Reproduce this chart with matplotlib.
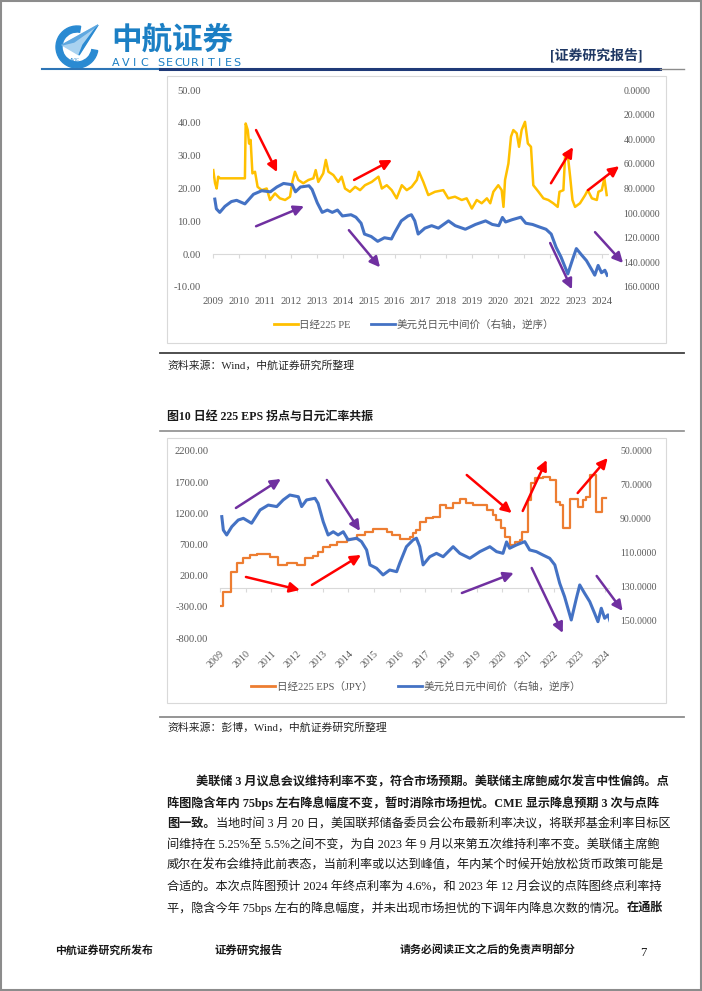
import matplotlib
matplotlib.use("Agg")
import matplotlib.pyplot as plt
from matplotlib.patches import Rectangle, Polygon, Wedge
from matplotlib.lines import Line2D

# ---------------- data ----------------
years = list(range(2009, 2025))

# Nikkei 225 PE (chart 1, left axis)
pe_x = [2009.01, 2009.08, 2009.14, 2009.20, 2009.27, 2010.23, 2010.26, 2010.34, 2010.39, 2010.45,
        2010.52, 2010.62, 2010.72, 2010.88, 2011.07, 2011.20, 2011.39, 2011.58, 2011.78, 2011.97,
        2012.06, 2012.16, 2012.29, 2012.48, 2012.68, 2012.87, 2012.96, 2013.06, 2013.25, 2013.35,
        2013.45, 2013.64, 2013.83, 2013.96, 2014.09, 2014.28, 2014.48, 2014.67, 2014.86, 2015.12,
        2015.38, 2015.51, 2015.70, 2015.89, 2016.08, 2016.28, 2016.47, 2016.66, 2016.86, 2016.94,
        2017.11, 2017.30, 2017.56, 2017.88, 2018.07, 2018.33, 2018.59, 2018.78, 2018.98, 2019.17,
        2019.36, 2019.56, 2019.69, 2019.81, 2020.00, 2020.13, 2020.20, 2020.26, 2020.39, 2020.49,
        2020.58, 2020.71, 2020.80, 2020.90, 2021.03, 2021.14, 2021.26, 2021.35, 2021.55, 2021.74,
        2021.93, 2022.12, 2022.29, 2022.36, 2022.51, 2022.58, 2022.70, 2022.77, 2022.86, 2022.96,
        2023.15, 2023.35, 2023.45, 2023.61, 2023.80, 2023.86, 2023.99, 2024.09, 2024.18]
pe_y = [25.6, 21.6, 20.0, 23.6, 23.1, 23.1, 39.8, 37.8, 33.7, 34.8,
        24.6, 25.1, 20.5, 19.5, 20.0, 16.5, 18.5, 17.0, 16.5, 17.5,
        22.0, 25.1, 22.6, 21.6, 22.6, 23.1, 25.6, 22.0, 24.6, 28.7,
        25.1, 24.1, 22.0, 23.6, 20.0, 19.0, 20.5, 19.5, 21.0, 22.0,
        23.6, 20.0, 21.0, 19.5, 17.0, 21.0, 19.5, 20.5, 22.6, 25.1,
        22.0, 18.0, 19.0, 19.5, 17.0, 17.5, 16.5, 17.0, 13.9, 16.5,
        15.5, 17.0, 15.5, 19.0, 21.0, 19.5, 14.4, 22.6, 27.6, 35.8,
        37.8, 36.8, 32.7, 37.8, 40.3, 33.7, 32.7, 21.0, 19.0, 17.0,
        16.5, 15.5, 14.4, 19.0, 19.5, 30.7, 28.7, 23.6, 16.5, 14.4,
        15.5, 18.0, 19.5, 17.0, 16.5, 19.0, 19.5, 23.1, 18.0]

# USD/JPY central parity (right axis, reversed) - same series in both charts
fx_x = [2009.07, 2009.13, 2009.26, 2009.46, 2009.71, 2009.91, 2010.23, 2010.56, 2010.88, 2011.21,
        2011.46, 2011.72, 2012.05, 2012.18, 2012.37, 2012.70, 2012.82, 2013.02, 2013.21, 2013.41,
        2013.60, 2013.80, 2013.99, 2014.32, 2014.51, 2014.71, 2014.84, 2015.10, 2015.35, 2015.61,
        2015.88, 2016.00, 2016.26, 2016.52, 2016.65, 2016.78, 2016.91, 2017.17, 2017.43, 2017.69,
        2018.08, 2018.34, 2018.73, 2019.12, 2019.51, 2019.77, 2020.02, 2020.16, 2020.28, 2020.54,
        2020.87, 2021.06, 2021.32, 2021.58, 2021.84, 2022.04, 2022.23, 2022.42, 2022.68, 2022.88,
        2023.01, 2023.20, 2023.40, 2023.59, 2023.72, 2023.85, 2023.98, 2024.11, 2024.20]
fx_y = [88.6, 96.5, 99.4, 94.5, 90.6, 89.6, 92.5, 84.7, 81.8, 82.7,
        78.8, 75.9, 76.9, 82.7, 78.8, 77.8, 80.8, 91.6, 99.4, 97.5,
        99.4, 97.5, 102.3, 101.3, 103.3, 108.2, 117.0, 119.0, 122.9, 120.0,
        121.0, 116.0, 106.3, 102.3, 101.3, 106.3, 117.0, 112.2, 110.2, 112.2,
        106.3, 110.2, 113.1, 109.2, 106.3, 109.2, 110.2, 103.5, 107.2, 105.3,
        103.3, 108.2, 109.2, 111.2, 113.1, 117.0, 127.8, 135.7, 149.4, 136.6,
        128.8, 133.7, 138.6, 145.5, 150.4, 142.5, 148.4, 146.4, 150.5]

# Nikkei 225 EPS, JPY (chart 2, left axis, step line)
eps_x = [2009.00, 2009.12, 2009.42, 2009.65, 2009.89, 2010.17, 2010.43, 2010.95, 2011.26, 2011.60,
         2011.98, 2012.31, 2012.62, 2012.81, 2013.01, 2013.28, 2013.54, 2013.93, 2014.32, 2014.64,
         2014.95, 2015.49, 2015.68, 2016.00, 2016.39, 2016.50, 2016.65, 2016.78, 2017.04, 2017.29,
         2017.56, 2017.82, 2018.08, 2018.34, 2018.60, 2018.86, 2019.38, 2019.63, 2019.76, 2019.96,
         2020.09, 2020.28, 2020.48, 2020.67, 2020.78, 2021.00, 2021.13, 2021.26, 2021.58, 2021.84,
         2022.10, 2022.23, 2022.36, 2022.62, 2022.94, 2023.13, 2023.27, 2023.40, 2023.66, 2023.89,
         2024.05]
eps_y = [-286, -57, 264, 399, 483, 532, 548, 505, 371, 408,
         371, 479, 516, 585, 655, 692, 745, 788, 853, 906,
         944, 906, 853, 788, 815, 880, 933, 1066, 1120, 1147,
         1334, 1281, 1361, 1425, 1361, 1334, 1253, 1173, 1093, 960,
         825, 692, 745, 772, 906, 1414, 1682, 1762, 1778, 1735,
         1387, 1334, 960, 1425, 1307, 1414, 1467, 1815, 1227, 1441,
         1441]

# hand-drawn arrows (start x, start y, end x, end y) in left-axis units
c1_red = [(2010.66, 37.8, 2011.47, 25.0), (2014.44, 22.6, 2015.90, 28.7),
          (2022.03, 21.6, 2022.88, 32.6), (2023.46, 19.5, 2024.66, 26.8)]
c1_purple = [(2010.66, 8.5, 2012.51, 14.6), (2014.24, 7.3, 2015.44, -4.0),
             (2022.00, 3.4, 2022.84, -10.7), (2023.73, 6.7, 2024.81, -2.7)]
c2_red = [(2010.01, 179, 2012.11, -30), (2012.58, 51, 2014.49, 532),
          (2018.61, 1815, 2020.36, 1205), (2020.79, 1238, 2021.72, 2056),
          (2022.93, 1526, 2024.10, 2088)]
c2_purple = [(2009.62, 1286, 2011.37, 1751), (2013.16, 1735, 2014.45, 917),
             (2018.42, -78, 2020.44, 243), (2021.14, 323, 2022.35, -719),
             (2023.67, 195, 2024.68, -366)]

para = [
    [("美联储 3 月议息会议维持利率不变，符合市场预期。美联储主席鲍威尔发言中性偏鸽。点", True)],
    [("阵图隐含年内 75bps 左右降息幅度不变，暂时消除市场担忧。CME 显示降息预期 3 次与点阵", True)],
    [("图一致。", True), ("当地时间 3 月 20 日，美国联邦储备委员会公布最新利率决议，将联邦基金利率目标区", False)],
    [("间维持在 5.25%至 5.5%之间不变，为自 2023 年 9 月以来第五次维持利率不变。美联储主席鲍", False)],
    [("威尔在发布会维持此前表态，当前利率或以达到峰值，年内某个时候开始放松货币政策可能是", False)],
    [("合适的。本次点阵图预计 2024 年终点利率为 4.6%，和 2023 年 12 月会议的点阵图终点利率持", False)],
    [("平，隐含今年 75bps 左右的降息幅度，并未出现市场担忧的下调年内降息次数的情况。", False), ("在通胀", True)],
]

# ---------------- page ----------------
W, H = 702, 991
SERIF = ['Liberation Serif', 'Noto Sans CJK SC']
SANS = ['Noto Sans CJK SC', 'DejaVu Sans']
GREY = '#595959'
YELLOW, BLUE, ORANGE = '#FFC000', '#4472C4', '#ED7D31'
RED, PURPLE = '#FF0000', '#7030A0'

fig = plt.figure(figsize=(7.02, 9.91), dpi=100)
fig.patch.set_facecolor('white')
renderer = fig.canvas.get_renderer()


def px_box(l, t, r, b):
    return [l / W, 1 - b / H, (r - l) / W, (b - t) / H]


def ftext(x, y, s, **kw):
    kw.setdefault('family', SERIF)
    kw.setdefault('va', 'center')
    return fig.text(x / W, 1 - y / H, s, **kw)


def hline(x0, x1, y, **kw):
    fig.add_artist(Line2D([x0 / W, x1 / W], [1 - y / H, 1 - y / H], **kw))


def box(l, t, r, b, **kw):
    fig.add_artist(Rectangle((l / W, 1 - b / H), (r - l) / W, (b - t) / H,
                             transform=fig.transFigure, fill=False, **kw))


# page frame
box(1, 1, W - 1, H - 1, edgecolor='#8C8C8C', lw=1.5)

# header / logo
logo = fig.add_axes(px_box(52, 20, 104, 72))
logo.set_xlim(0, 52)
logo.set_ylim(0, 52)
logo.axis('off')
logo.add_patch(Wedge((25, 25), 21, 80, 350, width=6, color='#2A8AD2'))
logo.add_patch(Polygon([[10, 27], [46, 47], [27, 17]], color='#A9D2F0'))
logo.add_patch(Polygon([[27, 17], [46, 47], [31, 27]], color='#2A8AD2'))
logo.add_patch(Polygon([[10, 27], [46, 47], [22, 30]], color='#5FA8E0'))
logo.text(23, 12, 'AVIC', fontsize=3.2, color='#2A8AD2', ha='center', va='center')
ftext(111, 40, '中航证券', family=SANS, fontsize=22, weight='bold', color='#1B7FC4')
for i, ch in enumerate('AVIC'):
    ftext(116 + i * 9.5, 63, ch, family='DejaVu Sans', fontsize=8, color='#1B7FC4', ha='center')
for i, ch in enumerate('SECURITIES'):
    ftext(161 + i * 8.4, 63, ch, family='DejaVu Sans', fontsize=8, color='#1B7FC4', ha='center')
ftext(596, 55, '[证券研究报告]', fontsize=10, weight='bold', color='#1F3864', ha='center')
hline(42, 160, 68.5, color='#2E75B6', lw=1.5)
hline(160, 660, 68.5, color='#1F3A78', lw=2.2)
hline(660, 684, 68.5, color='#8C8C8C', lw=1)


def draw_arrows(ax, axr, arrows, color):
    for x0, y0, x1, y1 in arrows:
        axr.annotate('', xy=(x1, y1), xytext=(x0, y0), xycoords=ax.transData,
                     textcoords=ax.transData, annotation_clip=False,
                     arrowprops=dict(arrowstyle='-|>,head_length=0.6,head_width=0.3',
                                     color=color, lw=1.8, shrinkA=0, shrinkB=0))


def dual_axes(rect, xlim, ylim_l, yt_l, fmt_l, ylim_r, yt_r, fmt_r, pad_l, pad_r):
    ax = fig.add_axes(rect)
    axr = ax.twinx()
    for a in (ax, axr):
        for s in a.spines.values():
            s.set_visible(False)
        a.tick_params(length=0, labelcolor=GREY)
    ax.set_xlim(*xlim)
    ax.set_ylim(*ylim_l)
    axr.set_ylim(*ylim_r)
    ax.set_yticks(yt_l, [fmt_l.format(v) for v in yt_l], family=SERIF)
    axr.set_yticks(yt_r, [fmt_r.format(v) for v in yt_r], family=SERIF)
    ax.tick_params(axis='y', pad=pad_l, labelsize=7.6)
    axr.tick_params(axis='y', pad=pad_r, labelsize=7.0)
    # category axis crossing at zero, with small outward tick marks
    zero = (0 - ylim_l[0]) / (ylim_l[1] - ylim_l[0])
    sec = ax.secondary_xaxis(zero)
    sec.set_xticks(years, [])
    sec.tick_params(direction='out', length=3, color='#D9D9D9', width=0.8)
    sec.spines['bottom'].set_color('#D9D9D9')
    return ax, axr


# ---------------- chart 1 ----------------
box(167, 76, 666, 343, edgecolor='#D9D9D9', lw=0.8)
ax1, ax1r = dual_axes(px_box(213, 90, 608, 287), (2009, 2024.23),
                      (-10, 50), list(range(-10, 51, 10)), '{:.2f}',
                      (160, 0), list(range(0, 161, 20)), '{:.4f}', 8.5, 11)
ax1.set_xticks(years, [str(y) for y in years], family=SERIF)
ax1.tick_params(axis='x', pad=7, labelsize=7.6)
ax1.plot(pe_x, pe_y, color=YELLOW, lw=1.8)
ax1r.plot(fx_x, fx_y, color=BLUE, lw=2.2)
draw_arrows(ax1, ax1r, c1_red, RED)
draw_arrows(ax1, ax1r, c1_purple, PURPLE)
fig.legend([Line2D([], [], color=YELLOW, lw=2), Line2D([], [], color=BLUE, lw=2)],
           ['日经225 PE', '美元兑日元中间价（右轴，逆序）'],
           loc='center', bbox_to_anchor=(414 / W, 1 - 325 / H), ncol=2, frameon=False,
           prop={'family': SERIF, 'size': 7.6}, labelcolor=GREY,
           handlelength=2.3, handletextpad=0.15, columnspacing=1.9)
hline(160, 684, 353, color='#404040', lw=1.3)
ftext(167, 366, '资料来源：Wind，中航证券研究所整理', fontsize=7.8, color='#262626')

# ---------------- chart 2 ----------------
ftext(167, 417, '图10 日经 225 EPS 拐点与日元汇率共振', fontsize=8.6, weight='bold', color='#1A1A1A')
hline(160, 684, 431, color='#8C8C8C', lw=1.2)
box(167, 438, 666, 703, edgecolor='#D9D9D9', lw=0.8)
ax2, ax2r = dual_axes(px_box(220, 451, 609, 638), (2009, 2024.15),
                      (-800, 2200), list(range(-800, 2201, 500)), '{:.2f}',
                      (160, 50), list(range(50, 151, 20)), '{:.4f}', 8.5, 8)
ax2.set_xticks(years, [str(y) for y in years], family=SERIF)
ax2.tick_params(axis='x', pad=8, labelsize=7.2)
for lab in ax2.get_xticklabels():
    lab.set_rotation(45)
    lab.set_ha('right')
    lab.set_rotation_mode('anchor')
ax2.plot(eps_x, eps_y, color=ORANGE, lw=1.6, drawstyle='steps-post')
ax2r.plot(fx_x, fx_y, color=BLUE, lw=2.2)
draw_arrows(ax2, ax2r, c2_red, RED)
draw_arrows(ax2, ax2r, c2_purple, PURPLE)
fig.legend([Line2D([], [], color=ORANGE, lw=2), Line2D([], [], color=BLUE, lw=2)],
           ['日经225 EPS（JPY）', '美元兑日元中间价（右轴，逆序）'],
           loc='center', bbox_to_anchor=(416 / W, 1 - 687 / H), ncol=2, frameon=False,
           prop={'family': SERIF, 'size': 7.6}, labelcolor=GREY,
           handlelength=2.3, handletextpad=0.15, columnspacing=2.4)
hline(160, 684, 717, color='#8C8C8C', lw=1.3)
ftext(167, 728, '资料来源：彭博，Wind，中航证券研究所整理', fontsize=7.8, color='#262626')

# ---------------- body text ----------------
line_y = [782, 803, 824, 845, 866, 887, 908]
for i, (y, runs) in enumerate(zip(line_y, para)):
    x = 196 if i == 0 else 167
    for s, bold in runs:
        t = ftext(x, y, s, fontsize=8.75, color='#1A1A1A', weight='bold' if bold else 'normal')
        x += t.get_window_extent(renderer=renderer).width

# footer
ftext(55, 950, '中航证券研究所发布', fontsize=7.8, weight='bold', color='#1A1A1A')
ftext(215, 950, '证券研究报告', fontsize=8.2, weight='bold', color='#1A1A1A')
ftext(400, 950, '请务必阅读正文之后的免责声明部分', fontsize=7.9, weight='bold', color='#1A1A1A')
ftext(640, 953, '7', fontsize=9, color='#1A1A1A')

fig.savefig('out.png', dpi=100)
